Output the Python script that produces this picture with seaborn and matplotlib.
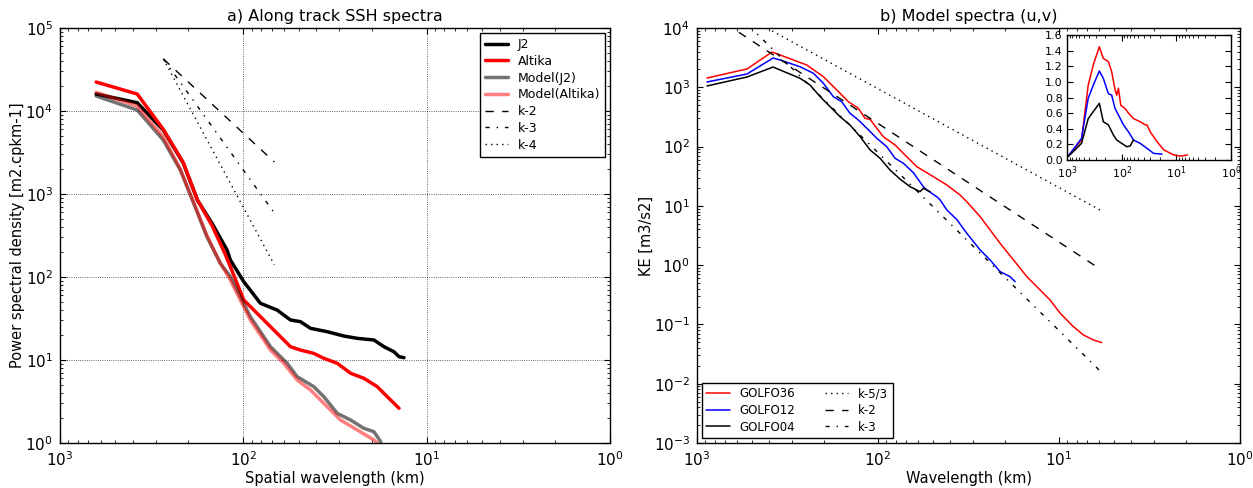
import numpy as np
import pandas as pd
import matplotlib
matplotlib.use("Agg")
import matplotlib.pyplot as plt
import seaborn as sns

# ---------------- Panel a) values (log10 km, log10 PSD) -------------
j2_logwl = [2.803, 2.579, 2.437, 2.328, 2.251, 2.171, 2.089, 2.071, 1.998, 1.907, 1.816,
            1.743, 1.689, 1.634, 1.543, 1.452, 1.379, 1.288, 1.233, 1.179, 1.151, 1.124]
j2_logp = [4.205, 4.100, 3.771, 3.373, 2.928, 2.647, 2.325, 2.205, 1.944, 1.683, 1.602,
           1.482, 1.462, 1.382, 1.341, 1.289, 1.261, 1.241, 1.160, 1.100, 1.040, 1.028]

alt_logwl = [2.803, 2.579, 2.437, 2.328, 2.251, 2.171, 2.100, 2.071, 1.998, 1.925, 1.834,
             1.743, 1.689, 1.616, 1.561, 1.488, 1.415, 1.343, 1.270, 1.215, 1.151]
alt_logp = [4.349, 4.205, 3.780, 3.380, 2.930, 2.620, 2.280, 2.124, 1.723, 1.562, 1.361,
            1.160, 1.120, 1.080, 1.020, 0.960, 0.840, 0.780, 0.679, 0.558, 0.418]

mj2_logwl = [2.803, 2.579, 2.437, 2.344, 2.271, 2.199, 2.126, 2.071, 1.962, 1.852, 1.761,
             1.707, 1.616, 1.561, 1.488, 1.415, 1.343, 1.288, 1.251]
mj2_logp = [4.181, 4.012, 3.650, 3.289, 2.888, 2.486, 2.165, 2.004, 1.522, 1.160, 0.960,
            0.800, 0.679, 0.558, 0.357, 0.277, 0.177, 0.136, 0.016]

malt_logwl = [2.803, 2.579, 2.437, 2.344, 2.271, 2.199, 2.126, 2.071, 1.962, 1.852, 1.779,
              1.707, 1.634, 1.561, 1.470, 1.379, 1.288, 1.270]
malt_logp = [4.225, 4.060, 3.690, 3.300, 2.900, 2.500, 2.170, 1.964, 1.482, 1.120, 0.960,
             0.760, 0.639, 0.478, 0.277, 0.157, 0.036, 0.004]

ref_a_wl = [273.0, 67.8]
k2_a = [4.24e4, 2.43e3]
k3_a = [4.24e4, 5.9e2]
k4_a = [4.24e4, 1.40e2]

# ---------------- Panel b) values (log10 km, log10 KE) -------------
g36_logwl = [2.945, 2.724, 2.586, 2.541, 2.394, 2.302, 2.228, 2.164, 2.109, 2.072, 2.044,
             2.007, 1.971, 1.906, 1.851, 1.786, 1.694, 1.620, 1.547, 1.510, 1.436, 1.381,
             1.326, 1.252, 1.178, 1.105, 1.050, 0.994, 0.921, 0.866, 0.811, 0.764]
g36_logke = [3.157, 3.309, 3.595, 3.545, 3.376, 3.179, 2.955, 2.757, 2.646, 2.477, 2.460,
             2.309, 2.167, 2.027, 1.858, 1.661, 1.492, 1.352, 1.184, 1.071, 0.818, 0.594,
             0.369, 0.088, -0.194, -0.418, -0.587, -0.811, -1.037, -1.177, -1.261, -1.307]

g12_logwl = [2.945, 2.724, 2.580, 2.541, 2.431, 2.357, 2.302, 2.247, 2.201, 2.155, 2.109,
             2.062, 2.007, 1.952, 1.906, 1.860, 1.805, 1.750, 1.731, 1.676, 1.657, 1.620,
             1.565, 1.510, 1.436, 1.381, 1.326, 1.271, 1.243]
g12_logke = [3.090, 3.224, 3.494, 3.460, 3.347, 3.236, 3.067, 2.842, 2.757, 2.561, 2.449,
             2.309, 2.140, 1.998, 1.803, 1.718, 1.560, 1.324, 1.268, 1.155, 1.100, 0.930,
             0.770, 0.538, 0.256, 0.088, -0.109, -0.194, -0.278]

g04_logwl = [2.945, 2.724, 2.580, 2.541, 2.431, 2.376, 2.320, 2.265, 2.210, 2.155, 2.099,
             2.044, 1.989, 1.934, 1.878, 1.823, 1.768, 1.750, 1.713]
g04_logke = [3.022, 3.174, 3.342, 3.292, 3.152, 3.039, 2.842, 2.673, 2.504, 2.364, 2.167,
             1.943, 1.803, 1.605, 1.450, 1.324, 1.240, 1.297, 1.240]

ref_b_wl = [1000.0, 5.93]
k53_b = [4.38e4, 8.5]
k2_b = [2.45e4, 0.86]
k3_b = [7.86e4, 0.0164]

# ---------------- Inset values (log10 km, linear) -------------
in36_logwl = [2.980, 2.736, 2.613, 2.520, 2.410, 2.337, 2.245, 2.184, 2.123, 2.092, 2.061,
              2.018, 1.939, 1.877, 1.785, 1.663, 1.571, 1.540, 1.479, 1.356, 1.233, 1.049, 0.926, 0.800]
in36_val = [0.05, 0.256, 0.96, 1.22, 1.45, 1.30, 1.26, 1.13, 0.90, 0.83, 0.92,
            0.70, 0.66, 0.60, 0.53, 0.49, 0.45, 0.45, 0.36, 0.235, 0.13, 0.064, 0.05, 0.064]
in12_logwl = [2.980, 2.736, 2.613, 2.520, 2.410, 2.337, 2.245, 2.184, 2.123, 2.061, 1.969,
              1.877, 1.785, 1.663, 1.540, 1.417, 1.294, 1.264]
in12_val = [0.05, 0.277, 0.79, 0.96, 1.14, 1.045, 0.85, 0.83, 0.66, 0.576, 0.45,
            0.36, 0.256, 0.213, 0.15, 0.085, 0.077, 0.077]
in04_logwl = [2.980, 2.736, 2.613, 2.520, 2.410, 2.337, 2.245, 2.153, 2.092, 2.000, 1.908,
              1.847, 1.785]
in04_val = [0.043, 0.213, 0.53, 0.62, 0.725, 0.49, 0.45, 0.32, 0.256, 0.213, 0.17,
            0.18, 0.256]

# ---------------- style -------------
sns.set_style("ticks")
plt.rcParams.update({
    "font.family": ["DejaVu Sans"],
    "font.size": 10.5,
    "xtick.direction": "in", "ytick.direction": "in",
    "xtick.top": True, "ytick.right": True,
    "xtick.major.size": 4, "ytick.major.size": 4,
    "xtick.minor.size": 2, "ytick.minor.size": 2,
    "xtick.major.pad": 5, "ytick.major.pad": 5,
    "xtick.minor.visible": True, "ytick.minor.visible": True,
    "axes.edgecolor": "black", "axes.linewidth": 1.0,
    "xtick.labelsize": 11, "ytick.labelsize": 11,
    "xtick.color": "black", "ytick.color": "black",
    "axes.labelcolor": "black", "text.color": "black",
})

fig = plt.figure(figsize=(12.53, 4.88), dpi=100)
ax1 = fig.add_axes([0.0479, 0.0922, 0.4390, 0.8504])
ax2 = fig.add_axes([0.5563, 0.0922, 0.4334, 0.8504])
axi = fig.add_axes([0.8516, 0.6721, 0.1310, 0.2561])

for ax in (ax1, ax2, axi):
    ax.set_xscale("log")
ax1.set_yscale("log")
ax2.set_yscale("log")

def lp(ax, logx, y, **kw):
    sns.lineplot(x=np.power(10.0, logx), y=y, ax=ax, sort=False, estimator=None, **kw)

# Panel a
lp(ax1, j2_logwl, np.power(10.0, j2_logp), color="black", lw=2.5, label="J2")
lp(ax1, alt_logwl, np.power(10.0, alt_logp), color="red", lw=2.5, label="Altika")
lp(ax1, mj2_logwl, np.power(10.0, mj2_logp), color="black", alpha=0.55, lw=2.5, label="Model(J2)")
lp(ax1, malt_logwl, np.power(10.0, malt_logp), color="red", alpha=0.5, lw=2.5, label="Model(Altika)")
ax1.plot(ref_a_wl, k2_a, color="k", lw=1, dashes=(6, 6), label="k-2")
ax1.plot(ref_a_wl, k3_a, color="k", lw=1, dashes=(3, 5, 1, 5), label="k-3")
ax1.plot(ref_a_wl, k4_a, color="k", lw=1, dashes=(1, 3), label="k-4")
ax1.set_xlim(1e3, 1e0)
ax1.set_ylim(1e0, 1e5)
ax1.grid(True, which="major", color="black", linestyle=":", linewidth=0.6, alpha=0.8)
ax1.set_xlabel("Spatial wavelength (km)", fontsize=10.5, labelpad=2)
ax1.set_ylabel("Power spectral density [m2.cpkm-1]", fontsize=10.5, labelpad=0)
ax1.set_title("a) Along track SSH spectra", fontsize=11.5, pad=5)
leg1 = ax1.legend(loc="upper right", fontsize=9, frameon=True, fancybox=False,
                  edgecolor="black", framealpha=1, handlelength=1.8, borderaxespad=0.4,
                  labelspacing=0.3)
leg1.get_frame().set_linewidth(1.0)

# Panel b
lp(ax2, g36_logwl, np.power(10.0, g36_logke), color="red", lw=1.1, label="GOLFO36")
lp(ax2, g12_logwl, np.power(10.0, g12_logke), color="blue", lw=1.1, label="GOLFO12")
lp(ax2, g04_logwl, np.power(10.0, g04_logke), color="black", lw=1.1, label="GOLFO04")
ax2.plot(ref_b_wl, k53_b, color="k", lw=1, dashes=(1, 3), label="k-5/3")
ax2.plot(ref_b_wl, k2_b, color="k", lw=1, dashes=(6, 6), label="k-2")
ax2.plot(ref_b_wl, k3_b, color="k", lw=1, dashes=(3, 5, 1, 5), label="k-3")
ax2.set_xlim(1e3, 1e0)
ax2.set_ylim(1e-3, 1e4)
ax2.set_xlabel("Wavelength (km)", fontsize=10.5, labelpad=2)
ax2.set_ylabel("KE [m3/s2]", fontsize=10.5, labelpad=0)
ax2.set_title("b) Model spectra (u,v)", fontsize=11.5, pad=5)
leg2 = ax2.legend(loc="lower left", ncol=2, fontsize=8.5, frameon=True, fancybox=False,
                  edgecolor="black", framealpha=1, handlelength=2.0, borderaxespad=0.4,
                  labelspacing=0.3, columnspacing=2.5)
leg2.get_frame().set_linewidth(1.0)

# Inset
lp(axi, in36_logwl, in36_val, color="red", lw=1.1)
lp(axi, in12_logwl, in12_val, color="blue", lw=1.1)
lp(axi, in04_logwl, in04_val, color="black", lw=1.1)
axi.set_xlim(1e3, 1e0)
axi.set_ylim(0, 1.6)
axi.set_yticks([0.0, 0.2, 0.4, 0.6, 0.8, 1.0, 1.2, 1.4, 1.6])
axi.yaxis.set_major_formatter(matplotlib.ticker.FormatStrFormatter("%.1f"))
axi.yaxis.set_minor_locator(matplotlib.ticker.NullLocator())
axi.tick_params(labelsize=8, pad=3)
axi.set_xlabel("")
axi.set_ylabel("")
if axi.get_legend() is not None:
    axi.get_legend().remove()

fig.savefig("out.png", dpi=100)
